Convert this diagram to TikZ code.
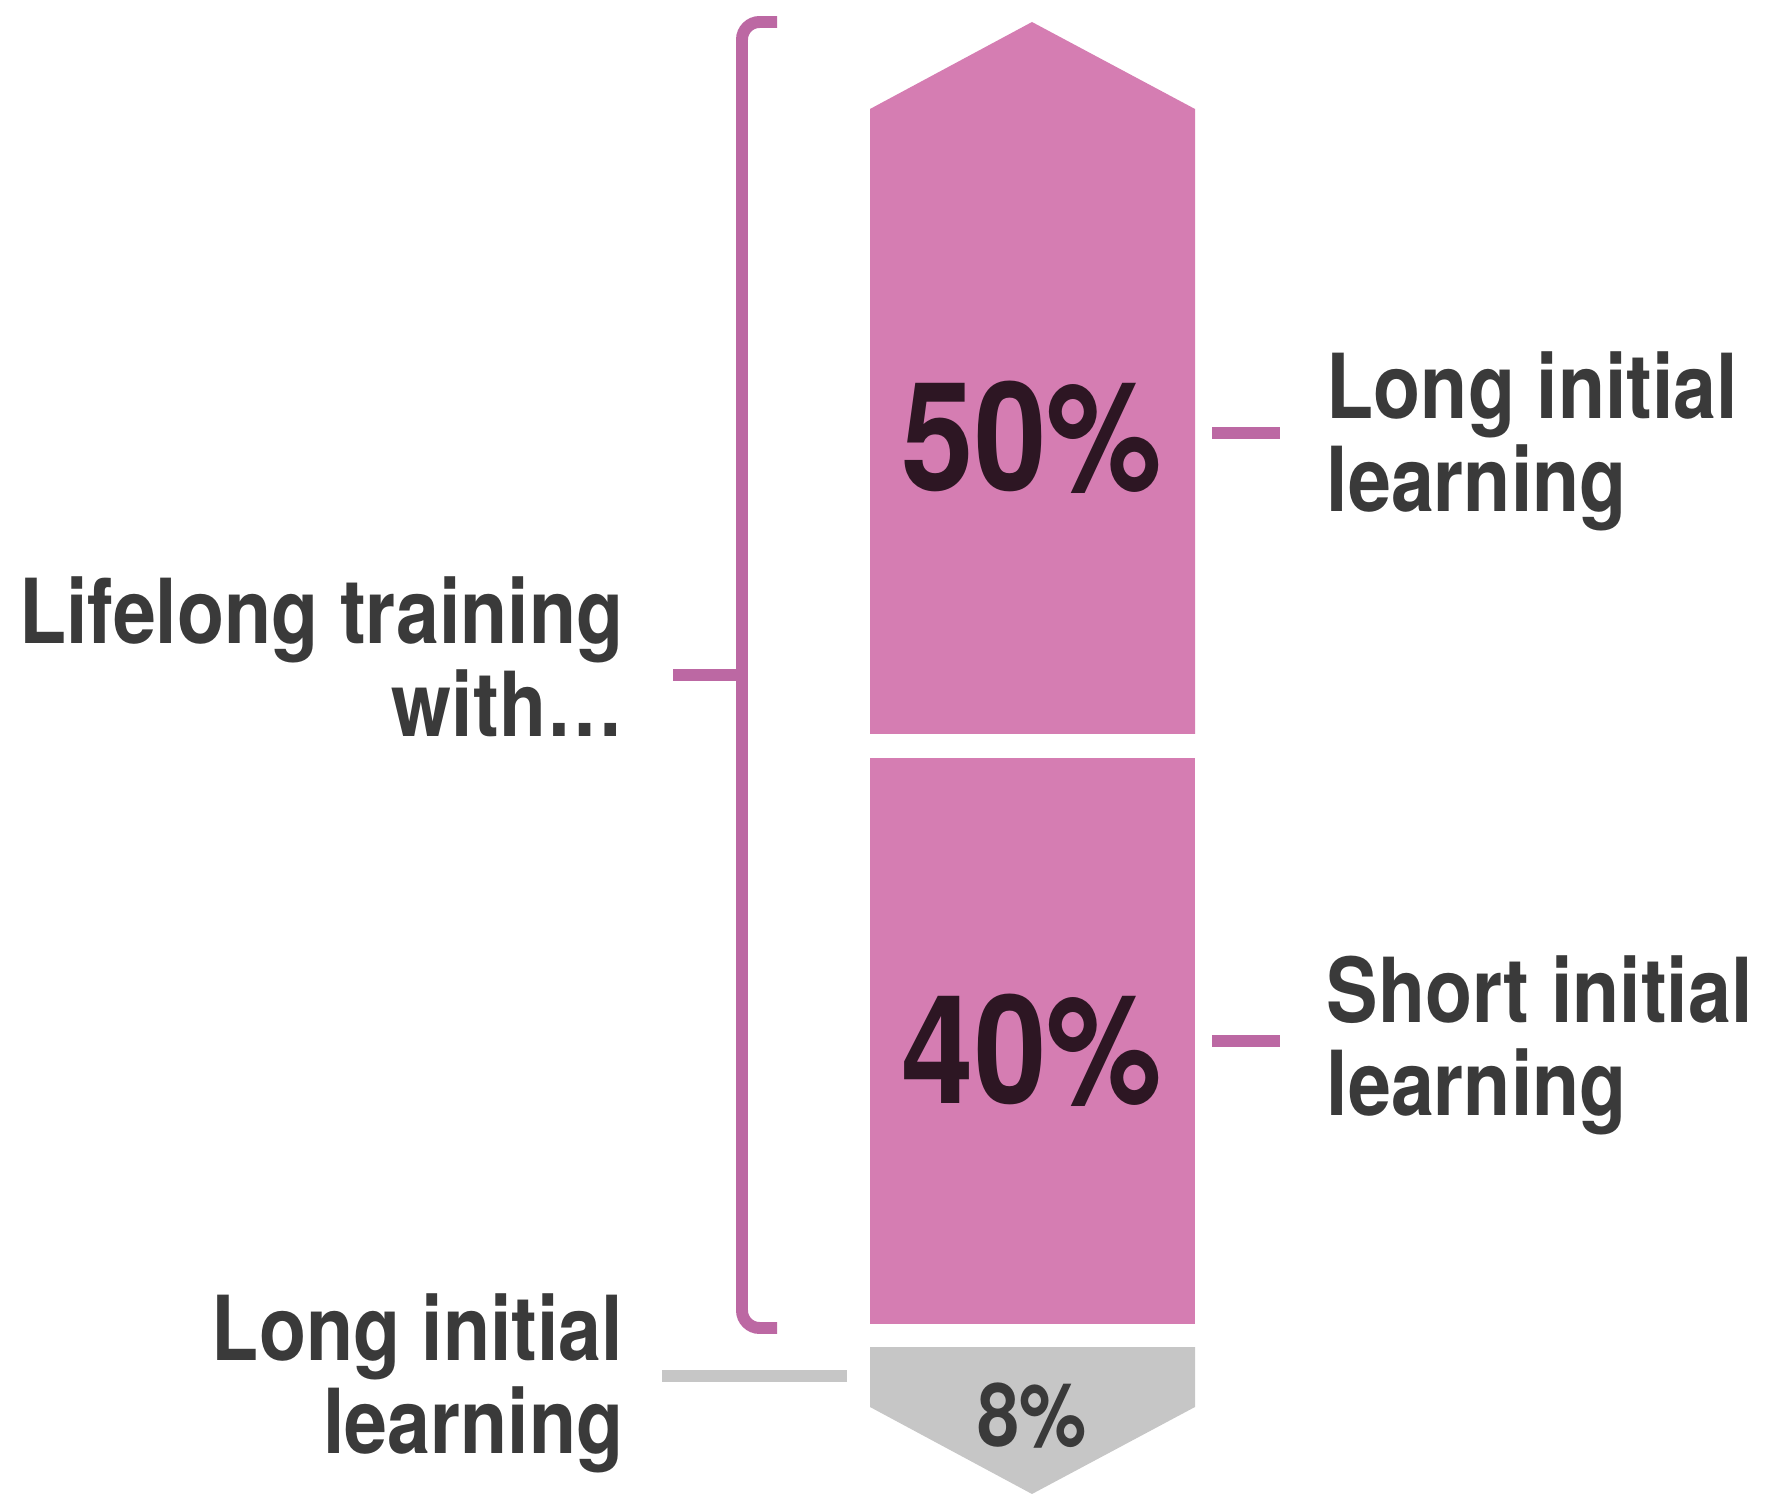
\documentclass[tikz,border=0pt]{standalone}
\usepackage{fontspec}
\setmainfont{TeX Gyre Heros}[FakeStretch=0.86]
\definecolor{barpink}{RGB}{213,125,178}
\definecolor{bracepink}{RGB}{188,104,163}
\definecolor{bargrey}{RGB}{198,198,198}
\definecolor{labelgrey}{RGB}{58,58,58}
\definecolor{pctdark}{RGB}{45,22,35}

\begin{document}
\begin{tikzpicture}[
            x=0.01cm, y=-0.01cm,
            bar/.style={fill=barpink, draw=none},
            lowbar/.style={fill=bargrey, draw=none},
            tick/.style={draw=bracepink, line width=3.4pt},
            greytick/.style={draw=bargrey, line width=3.2pt},
            brace/.style={draw=bracepink, line width=3.4pt, rounded corners=5pt},
            label/.style={font=\fontsize{25.5}{26.5}\selectfont\bfseries, text=labelgrey, inner sep=0pt},
            pct/.style={font=\fontsize{43}{43}\selectfont\bfseries, text=pctdark, inner sep=0pt},
            smallpct/.style={font=\fontsize{25}{25}\selectfont\bfseries, text=labelgrey, inner sep=0pt}
            ]
            \useasboundingbox (0,0) rectangle (1765,1494);

            % Bars
            \path[bar] (870,734) -- (870,109) -- (1032,22) -- (1195,109) -- (1195,734) -- cycle;
            \path[bar] (870,758) rectangle (1195,1324);
            \path[lowbar] (870,1347) -- (1195,1347) -- (1195,1407) -- (1032,1494) -- (870,1407) -- cycle;

            % Percentages
            \node[pct] (long) at (1032,437) {50\%};
            \node[pct] (short) at (1032,1050) {40\%};
            \node[smallpct] (base) at (1032,1416) {8\%};

            % Labels
            \node[label, align=left, anchor=west] (longlbl) at (1326,441) {Long initial\\learning};
            \node[label, align=left, anchor=west] (shortlbl) at (1326,1045) {Short initial\\learning};
            \node[label, align=right, anchor=east] (lifelbl) at (624,657) {Lifelong training\\with\ldots};
            \node[label, align=right, anchor=east] (baselbl) at (624,1383) {Long initial\\learning};

            % Brace
            \coordinate (bracetop) at (777,22);
            \coordinate (bracebot) at (777,1328);
            \coordinate (bracemid) at (742,675);
            \draw[brace] (bracetop) -| (bracemid) |- (bracebot);
            \draw[tick] (673,675) -- (bracemid);

            % Ticks
            \coordinate (longtick) at (1212,433);
            \coordinate (shorttick) at (1212,1041);
            \draw[tick] (longtick) -- ++(68,0);
            \draw[tick] (shorttick) -- ++(68,0);
            \coordinate (basetick) at (847,1376);
            \draw[greytick] (basetick) -- ++(-185,0);

        \end{tikzpicture}
\end{document}
